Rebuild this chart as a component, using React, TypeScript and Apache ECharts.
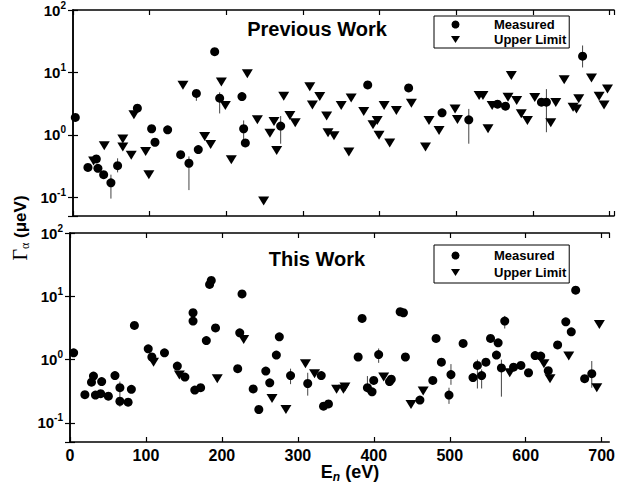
import React, { useEffect, useRef } from 'react';
import * as echarts from 'echarts';

const FONT = '"Liberation Sans", Arial, sans-serif';
const SERIF = '"Liberation Serif", "Times New Roman", serif';

// Energy axis (eV)
const xTickInterval = 100;
const topXMax = 706;
const bottomXMax = 710;
// Gamma axis (ueV), log scale
const yMin = 0.05;
const yMax = 100;

// ---- Previous Work ----
const prevMeasured: [number, number][] = [
  [3, 1.9], [19.5, 0.30], [30.4, 0.41], [32.5, 0.29], [40, 0.23], [49.5, 0.17],
  [58.2, 0.32], [84, 2.67], [102.6, 1.25], [107, 0.76], [123.5, 1.2], [140.5, 0.48],
  [151.3, 0.35], [161, 4.6], [163.5, 0.58], [184.9, 21.5], [191.4, 3.87], [220.5, 4.1],
  [222.7, 1.25], [224.9, 0.74], [271, 1.38], [384.6, 6.3], [438, 5.65], [481.6, 2.25],
  [516.5, 1.74], [554, 3.1], [564.4, 2.88], [611.3, 3.33], [617.8, 3.33], [665, 18.2],
];
const prevUpper: [number, number][] = [
  [26.9, 0.38], [40.8, 0.67], [65, 0.86], [65, 0.64], [76, 0.47], [79.5, 2.09],
  [94.8, 0.54], [99, 0.23], [143.5, 6.2], [171.8, 0.94], [179.6, 0.70], [193.6, 7.0],
  [198.8, 2.94], [206.6, 0.40], [227.5, 9.5], [240.6, 1.74], [248.8, 0.087], [257, 1.06],
  [262.3, 1.63], [265.8, 0.56], [275, 4.16], [283, 2.04], [290, 1.56], [309, 5.9],
  [312.4, 3.0], [322, 4.1], [331, 2.0], [332.8, 1.08], [340.6, 0.97], [350, 2.94],
  [360, 0.53], [363, 3.9], [379.4, 2.36], [391.5, 1.45], [397, 1.69], [399.4, 0.98],
  [406, 2.94], [413.3, 0.74], [422, 2.45], [441.6, 3.2], [460, 0.64], [464.6, 1.69],
  [477.7, 1.17], [498.6, 2.6], [501.7, 1.76], [530, 4.26], [535, 4.26], [541.6, 1.25],
  [547, 2.94], [567.7, 4.0], [572, 8.9], [579, 3.54], [585, 2.17], [593, 1.69],
  [602.6, 3.95], [623.5, 1.56], [630, 3.3], [641, 7.6], [652.6, 2.77], [657, 2.6],
  [660, 3.77], [676.6, 8.1], [686.6, 4.16], [693, 3.0], [697.5, 5.44],
];
const prevErrors: [number, number, number][] = [
  [49.5, 0.095, 0.23], [58.2, 0.25, 0.42], [151.3, 0.13, 0.45], [161, 3.5, 5.2],
  [191.4, 2.2, 4.8], [222.7, 0.85, 1.7], [271, 0.72, 2.0], [516.5, 0.72, 2.6],
  [617.8, 1.1, 5.4], [665, 12, 27],
];

// ---- This Work ----
const thisMeasured: [number, number][] = [
  [4.8, 1.28], [19.6, 0.28], [28.3, 0.44], [30.9, 0.55], [33.5, 0.275], [40.4, 0.29],
  [41.7, 0.45], [50.5, 0.265], [59.2, 0.56], [65.7, 0.36], [65.7, 0.22], [76.5, 0.213],
  [80.8, 0.34], [84.8, 3.47], [103, 1.48], [107.8, 1.1], [124.4, 1.28], [141.3, 0.79],
  [151.3, 0.53], [162, 5.5], [162, 4.06], [164.3, 0.33], [172, 0.36], [179.5, 2.0],
  [183.8, 15.4], [186, 17.8], [191.6, 3.17], [220.8, 0.72], [223.5, 2.65], [226.5, 10.9],
  [241.2, 0.345], [248.6, 0.163], [257.8, 0.66], [263, 0.43], [271.7, 1.18], [275.6, 2.29],
  [290.4, 0.56], [313, 0.42], [330.8, 0.56], [333.8, 0.184], [340.3, 0.2], [379.4, 1.1],
  [384.6, 4.47], [391.6, 0.36], [397.7, 0.31], [399.9, 0.47], [406.4, 1.2], [420.7, 0.45],
  [423, 0.49], [434.7, 5.7], [439, 5.5], [441.6, 1.1], [460.7, 0.23], [477.7, 0.47],
  [482, 2.16], [489, 0.91], [499, 0.275], [501.6, 0.58], [517.6, 1.8], [530.6, 0.52],
  [536.4, 0.81], [542, 0.56], [547.6, 0.91], [553.7, 2.16], [561.5, 1.18], [563.7, 1.84],
  [568, 0.74], [572.4, 4.06], [584, 0.76], [593.7, 0.81], [603.7, 0.62], [612.4, 1.16],
  [619.8, 1.14], [629.7, 0.67], [642, 1.71], [652.8, 3.96], [660, 2.75], [665.8, 12.5],
  [677.6, 0.5], [687, 0.6],
];
const thisUpper: [number, number][] = [
  [110, 0.91], [144, 0.57], [193.9, 0.5], [228.7, 2.08], [266, 0.244], [284.3, 0.163],
  [310, 0.86], [322, 0.6], [351, 0.34], [360, 0.34], [362, 0.37], [413, 0.53],
  [449, 0.196], [465, 0.32], [579, 0.62], [624, 0.86], [632, 0.5], [656.7, 1.14],
  [693.6, 0.36], [697, 3.6],
];
const thisErrors: [number, number, number][] = [
  [65.7, 0.18, 0.45], [290.4, 0.41, 0.72], [313, 0.27, 0.62], [391.6, 0.3, 0.55],
  [406.4, 0.89, 1.5], [499, 0.2, 0.36], [501.6, 0.4, 0.85], [536.4, 0.35, 1.0],
  [542, 0.35, 0.7], [568, 0.26, 1.0], [572.4, 3.1, 4.9], [687, 0.36, 0.95],
];

const legendNames = ['Measured', 'Upper Limit'];
const titles = ['Previous Work', 'This Work'];

const TRI = 'path://M0 0L10 0L5 8Z';

const logLabel = (v: number) => {
  const e = Math.log10(v);
  const r = Math.round(e);
  if (Math.abs(e - r) > 1e-6) return '';
  return '{b|10}{s|' + r + '}';
};

const lineStyle = { color: '#000', width: 1.5 };

function xAxes(gridIndex: number, max: number, showLabels: boolean) {
  return [
    {
      type: 'value', gridIndex, min: 0, max, interval: xTickInterval, position: 'bottom',
      axisLine: { show: true, lineStyle },
      axisTick: { show: true, inside: true, length: 5, lineStyle: { color: '#000', width: 1.2 } },
      axisLabel: {
        show: showLabels, margin: 5, color: '#000', fontFamily: FONT, fontWeight: 'bold', fontSize: 16,
        showMaxLabel: false,
      },
      splitLine: { show: false },
    },
    {
      type: 'value', gridIndex, min: 0, max, interval: xTickInterval, position: 'top',
      axisLine: { show: true, lineStyle },
      axisTick: { show: true, inside: true, length: 5, lineStyle: { color: '#000', width: 1.2 } },
      axisLabel: { show: false },
      splitLine: { show: false },
    },
  ];
}

function yAxes(gridIndex: number) {
  return [
    {
      type: 'log', logBase: 10, gridIndex, min: yMin, max: yMax, position: 'left',
      axisLine: { show: true, lineStyle },
      axisTick: { show: true, inside: true, length: 5, lineStyle: { color: '#000', width: 1.2 } },
      axisLabel: {
        show: true, margin: 7, color: '#000', formatter: logLabel,
        rich: {
          b: { fontFamily: FONT, fontWeight: 'bold', fontSize: 15, lineHeight: 20, color: '#000' },
          s: { fontFamily: FONT, fontWeight: 'bold', fontSize: 10, lineHeight: 10, verticalAlign: 'top', color: '#000' },
        },
      },
      splitLine: { show: false },
    },
    {
      type: 'log', logBase: 10, gridIndex, min: yMin, max: yMax, position: 'right',
      axisLine: { show: true, lineStyle },
      axisTick: { show: true, inside: true, length: 5, lineStyle: { color: '#000', width: 1.2 } },
      axisLabel: { show: false },
      splitLine: { show: false },
    },
  ];
}

function errorSeries(data: [number, number, number][], xi: number, yi: number) {
  return {
    type: 'custom', xAxisIndex: xi, yAxisIndex: yi, data, silent: true, z: 1,
    encode: { x: 0, y: [1, 2] },
    renderItem: (_p: any, api: any) => {
      const x = api.value(0);
      const p1 = api.coord([x, api.value(1)]);
      const p2 = api.coord([x, api.value(2)]);
      return {
        type: 'line',
        shape: { x1: p1[0], y1: p1[1], x2: p2[0], y2: p2[1] },
        style: { stroke: '#444', lineWidth: 1 },
      };
    },
  };
}

function legendFor(top: number, gap: number, padTop: number) {
  return {
    data: [
      { name: legendNames[0], icon: 'circle' },
      { name: legendNames[1], icon: TRI },
    ],
    orient: 'vertical', left: 434, top, itemGap: gap, itemWidth: 9, itemHeight: 8,
    padding: [padTop, 3, padTop, 17], borderColor: '#000', borderWidth: 1,
    selectedMode: false,
    textStyle: { fontFamily: FONT, fontWeight: 'bold', fontSize: 13, color: '#000', padding: [0, 0, 0, 29] },
  };
}

export default function App() {
  const ref = useRef<HTMLDivElement>(null);
  useEffect(() => {
    const chart = echarts.init(ref.current!, null, { renderer: 'svg' });
    const marker = { color: '#000', opacity: 1 };
    const option: any = {
      animation: false,
      backgroundColor: '#fff',
      grid: [
        { left: 73, width: 541, top: 9, height: 207 },
        { left: 70, width: 545, top: 233, height: 209 },
      ],
      xAxis: [...xAxes(0, topXMax, false), ...xAxes(1, bottomXMax, true)],
      yAxis: [...yAxes(0), ...yAxes(1)],
      legend: [legendFor(16, 2, 2), legendFor(245, 4, 4)],
      series: [
        errorSeries(prevErrors, 0, 0),
        { name: legendNames[0], type: 'scatter', xAxisIndex: 0, yAxisIndex: 0, data: prevMeasured,
          symbol: 'circle', symbolSize: 9, itemStyle: marker, z: 3 },
        { name: legendNames[1], type: 'scatter', xAxisIndex: 0, yAxisIndex: 0, data: prevUpper,
          symbol: TRI, symbolSize: [11, 9], itemStyle: marker, z: 3 },
        errorSeries(thisErrors, 2, 2),
        { name: legendNames[0], type: 'scatter', xAxisIndex: 2, yAxisIndex: 2, data: thisMeasured,
          symbol: 'circle', symbolSize: 9, itemStyle: marker, z: 3 },
        { name: legendNames[1], type: 'scatter', xAxisIndex: 2, yAxisIndex: 2, data: thisUpper,
          symbol: TRI, symbolSize: [11, 9], itemStyle: marker, z: 3 },
      ],
      graphic: [
        { type: 'text', x: 317, y: 29, z: 10,
          style: { text: titles[0], fontFamily: FONT, fontWeight: 'bold', fontSize: 20, fill: '#000',
            align: 'center', verticalAlign: 'middle' } },
        { type: 'text', x: 317, y: 259, z: 10,
          style: { text: titles[1], fontFamily: FONT, fontWeight: 'bold', fontSize: 20, fill: '#000',
            align: 'center', verticalAlign: 'middle' } },
        { type: 'text', x: 20, y: 228, rotation: Math.PI / 2, z: 10,
          style: {
            text: '{g|Γ}{a|α}{t| (μeV)}', align: 'center', verticalAlign: 'middle',
            rich: {
              g: { fontFamily: SERIF, fontSize: 20, fill: '#000', lineHeight: 22 },
              a: { fontFamily: SERIF, fontSize: 12, fill: '#000', lineHeight: 12, verticalAlign: 'bottom' },
              t: { fontFamily: FONT, fontWeight: 'bold', fontSize: 17, fill: '#000', lineHeight: 22 },
            },
          } },
        { type: 'text', x: 350, y: 472, z: 10,
          style: {
            text: '{e|E}{n|n}{t| (eV)}', align: 'center', verticalAlign: 'middle',
            rich: {
              e: { fontFamily: FONT, fontWeight: 'bold', fontSize: 18, fill: '#000', lineHeight: 22 },
              n: { fontFamily: FONT, fontWeight: 'bold', fontStyle: 'italic', fontSize: 12, fill: '#000', lineHeight: 12, verticalAlign: 'bottom' },
              t: { fontFamily: FONT, fontWeight: 'bold', fontSize: 18, fill: '#000', lineHeight: 22 },
            },
          } },
      ],
    };
    chart.setOption(option);
    return () => chart.dispose();
  }, []);
  return <div ref={ref} style={{ position: 'absolute', left: 0, top: 0, width: 618, height: 497 }} />;
}
